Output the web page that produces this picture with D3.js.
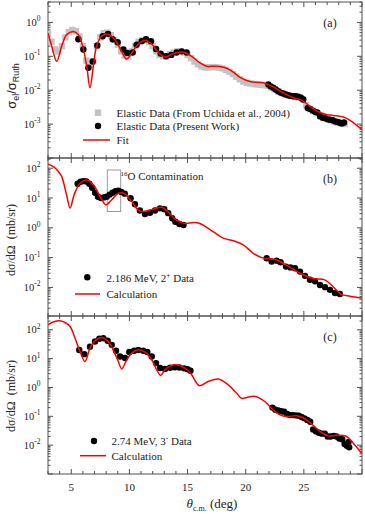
<!DOCTYPE html>
<html><head><meta charset="utf-8">
<script src="https://cdn.jsdelivr.net/npm/d3@7"></script>
<style>body{margin:0;background:#fff} svg{display:block}</style>
</head><body>
<script>
// ---------------- DATA ----------------
const xTickValues = [5, 10, 15, 20, 25];
const expsA = [0, -1, -2, -3];
const expsBC = [2, 1, 0, -1, -2];

// Panel (a) fit curve [deg, sigma/sigmaRuth]
const fitA = [[3,0.49],[3.32,0.2],[3.75,0.071],[4.18,0.2],[4.6,0.43],[5.18,0.54],[5.61,0.43],[5.98,0.2],[6.33,0.051],[6.61,0.0118],[6.9,0.051],[7.18,0.2],[7.61,0.39],[8.19,0.45],[8.76,0.31],[9.33,0.14],[9.76,0.083],[10.2,0.126],[10.77,0.23],[11.34,0.3],[11.92,0.23],[12.49,0.13],[13.06,0.096],[13.78,0.12],[14.6,0.134],[15.35,0.1],[16.07,0.064],[16.65,0.051],[17.2,0.051],[17.79,0.05],[18.65,0.04],[19.51,0.024],[20.37,0.018],[21.5,0.0165],[22.37,0.0125],[23.23,0.0083],[24.09,0.006],[24.8,0.0051],[25.5,0.0034],[26.39,0.0022],[27.0,0.0019],[27.53,0.0018],[28.54,0.00155],[29.25,0.0011],[29.97,0.0007]];

// Panel (a) Uchida et al. data (grey squares)
const uchidaA = [[3.0,0.45],[3.3,0.27],[3.6,0.16],[3.9,0.14],[4.2,0.2],[4.5,0.36],[4.8,0.52],[5.1,0.6],[5.4,0.55],[5.7,0.38],[6.0,0.2],[6.3,0.075],[6.6,0.05],[6.9,0.07],[7.2,0.2],[7.5,0.36],[7.8,0.48],[8.1,0.5],[8.4,0.42],[8.7,0.3],[9.0,0.22],[9.3,0.14],[9.6,0.105],[9.9,0.1],[10.2,0.14],[10.5,0.2],[10.8,0.27],[11.1,0.3],[11.4,0.3],[11.7,0.26],[12.0,0.2],[12.3,0.14],[12.6,0.11],[12.9,0.1],[13.2,0.1],[13.5,0.115],[13.8,0.13],[14.1,0.14],[14.4,0.14],[14.7,0.13],[15.0,0.11],[15.3,0.088],[15.6,0.07],[15.9,0.058],[16.2,0.05],[16.5,0.047],[16.8,0.047],[17.1,0.048],[17.4,0.048],[17.7,0.046],[18.0,0.044],[18.3,0.04],[18.6,0.035],[18.9,0.03],[19.2,0.025],[19.5,0.021],[19.8,0.018],[20.1,0.0165],[20.4,0.0158],[20.7,0.0152],[21.0,0.0148],[21.3,0.0144],[21.6,0.014],[21.9,0.0135],[22.2,0.012],[22.5,0.0105],[22.8,0.0092],[23.1,0.0082],[23.4,0.0075],[23.7,0.007],[24.0,0.0066],[24.3,0.0063],[24.6,0.006],[24.9,0.0054],[25.2,0.0036],[25.5,0.0028],[25.8,0.0025],[26.1,0.0021],[26.4,0.0017],[26.7,0.0015],[27.0,0.0014],[27.3,0.0013],[27.6,0.0012],[27.9,0.0011],[28.2,0.00105],[28.5,0.001]];

// Panel (a) present work (black dots)
const presentA = [[5.61,0.32],[6.04,0.158],[6.47,0.046],[6.84,0.07],[7.24,0.21],[7.7,0.39],[8.16,0.46],[8.56,0.32],[8.99,0.26],[9.48,0.158],[9.82,0.126],[10.28,0.13],[10.62,0.22],[11.06,0.28],[11.43,0.32],[11.86,0.28],[12.29,0.165],[12.69,0.12],[13.15,0.1],[13.6,0.11],[14.06,0.13],[14.49,0.14],[14.92,0.13],[21.95,0.0147],[22.15,0.013],[22.37,0.0118],[22.58,0.0105],[22.8,0.0093],[23.0,0.0085],[23.23,0.008],[23.45,0.0075],[23.66,0.0071],[23.88,0.0068],[24.09,0.0066],[24.3,0.0066],[24.52,0.0064],[24.75,0.006],[24.95,0.0053],[25.33,0.003],[25.55,0.0028],[25.76,0.0025],[25.96,0.0023],[26.16,0.0022],[26.4,0.0017],[26.62,0.00155],[26.84,0.0015],[27.05,0.00138],[27.27,0.00135],[27.48,0.0013],[27.7,0.0012],[27.91,0.00115],[28.1,0.0011],[28.25,0.00105],[28.45,0.00112]];

// Panel (b) calculation [deg, mb/sr]
const calcB = [[3,139],[3.5,110],[3.89,77],[4.18,52],[4.6,12.6],[4.9,4.6],[5.24,12.6],[5.75,31.4],[6.33,40.5],[6.9,27.6],[7.47,11.2],[7.99,5.9],[8.48,8.7],[9.05,14.5],[9.62,13.7],[10.2,7.6],[10.74,4.0],[11.17,3.5],[12.03,4.2],[12.78,4.9],[13.3,3.5],[14.06,1.8],[14.78,1.4],[15.5,1.5],[16.06,1.4],[17.2,0.74],[18.07,0.45],[18.93,0.37],[19.79,0.27],[20.65,0.14],[21.5,0.096],[22.66,0.083],[23.5,0.056],[24.67,0.03],[25.8,0.02],[26.8,0.018],[27.5,0.0107],[28.2,0.006],[28.97,0.0051],[29.97,0.0044]];

// Panel (b) 2.186 MeV 2+ data
const dataB = [[5.55,30],[5.8,35],[6.05,37],[6.3,36],[6.55,30],[6.8,22],[7.05,15],[7.3,11],[7.55,10],[7.8,10.5],[8.05,11],[8.3,13],[8.55,15],[8.8,17],[9.05,17.5],[9.3,16],[9.6,14],[10.1,9.8],[10.48,6.2],[10.9,3.8],[11.34,2.9],[11.77,3.2],[12.2,3.8],[12.63,4.5],[13.0,4.2],[13.34,3.1],[13.68,2.1],[13.95,1.6],[14.3,1.35],[14.65,1.25],[21.8,0.095],[22.23,0.074],[22.66,0.079],[23.0,0.07],[23.46,0.05],[23.85,0.047],[24.24,0.044],[24.67,0.034],[25.1,0.0245],[25.53,0.018],[25.96,0.016],[26.39,0.012],[26.82,0.0102],[27.25,0.0083],[27.68,0.0065],[28.1,0.006]];

// Panel (c) calculation
const calcC = [[3,149],[3.5,190],[4.03,205],[4.5,175],[4.9,130],[5.32,52],[5.75,17.7],[6.18,7.9],[6.61,23],[7.04,41.5],[7.61,54],[8.18,39],[8.67,17.7],[9.05,7.9],[9.34,4.4],[9.77,9.1],[10.2,15.5],[10.77,20.3],[11.34,16.9],[11.92,9.1],[12.35,4.1],[12.69,2.6],[13.06,4.1],[13.5,5.5],[14.06,6.1],[14.78,4.7],[15.35,2.75],[16.0,1.16],[16.77,1.6],[17.64,1.95],[18.5,1.23],[19.22,0.63],[19.65,0.42],[20.37,0.48],[20.94,0.48],[21.66,0.32],[22.37,0.166],[22.95,0.112],[23.52,0.098],[24.38,0.105],[24.95,0.089],[25.67,0.054],[26.39,0.03],[27.1,0.021],[27.82,0.022],[28.68,0.02],[29.25,0.0117],[29.97,0.0052]];

// Panel (c) 2.74 MeV 3- data
const dataC = [[5.69,20],[6.12,14.3],[6.61,26],[7.04,39],[7.41,49],[7.76,51],[8.13,41.5],[8.48,30],[8.85,18.7],[9.19,11.8],[9.62,10.5],[9.99,17],[10.4,18.7],[10.76,20],[11.19,18.7],[11.54,17],[11.92,11.8],[12.29,7],[12.63,4.7],[13.06,4.4],[13.5,4.8],[13.9,5.0],[14.3,4.9],[14.7,4.6],[15.0,4.3],[15.25,3.8],[22.3,0.2],[22.55,0.17],[22.8,0.16],[23.05,0.15],[23.3,0.145],[23.55,0.12],[23.8,0.11],[24.05,0.11],[24.3,0.108],[24.55,0.105],[24.8,0.095],[25.05,0.085],[25.3,0.075],[25.55,0.065],[25.8,0.035],[26.05,0.03],[26.3,0.027],[26.55,0.025],[26.8,0.025],[27.05,0.02],[27.3,0.02],[27.55,0.021],[27.8,0.02],[28.05,0.017],[28.3,0.016],[28.5,0.011],[28.7,0.0095],[28.85,0.013],[28.9,0.0085]];

// ---------------- DRAWING ----------------
const W = 365, H = 514, L = 48, R = 362;
const SERIF = "'Liberation Serif','Times New Roman',serif";
const SANS = "'Liberation Sans',Arial,sans-serif";
const AX = "#505050";
const svg = d3.select("body").append("svg").attr("width", W).attr("height", H);
const x = d3.scaleLinear().domain([3, 30]).range([L, R]);

const panels = [
  {top: 2, bottom: 158, domain: [1e-4, 4], exps: expsA, label: "(a)"},
  {top: 158, bottom: 316, domain: [1.1e-3, 220], exps: expsBC, label: "(b)"},
  {top: 316, bottom: 474, domain: [1e-3, 300], exps: expsBC, label: "(c)"}
];

panels.forEach((p, i) => {
  p.y = d3.scaleLog().domain(p.domain).range([p.bottom, p.top]);
  const g = svg.append("g");
  const clipId = "clip" + i;
  svg.append("clipPath").attr("id", clipId).append("rect")
    .attr("x", L).attr("y", p.top).attr("width", R - L).attr("height", p.bottom - p.top);
  p.g = g;
  p.clip = "url(#" + clipId + ")";

  // x ticks (inward top and bottom)
  const xt = d3.range(3, 31, 1);
  xt.forEach(v => {
    const len = v % 5 === 0 ? 5 : 3;
    g.append("line").attr("x1", x(v)).attr("x2", x(v)).attr("y1", p.bottom).attr("y2", p.bottom - len)
      .attr("stroke", AX).attr("stroke-width", 1);
    g.append("line").attr("x1", x(v)).attr("x2", x(v)).attr("y1", p.top).attr("y2", p.top + len)
      .attr("stroke", AX).attr("stroke-width", 1);
  });
  // y ticks (log, inward left and right)
  const [d0, d1] = p.domain;
  for (let e = Math.floor(Math.log10(d0)); e <= Math.ceil(Math.log10(d1)); e++) {
    for (let m = 1; m <= 9; m++) {
      const v = m * Math.pow(10, e);
      if (v < d0 || v > d1) continue;
      const len = m === 1 ? 5 : 2.5;
      const yy = p.y(v);
      g.append("line").attr("x1", L).attr("x2", L + len).attr("y1", yy).attr("y2", yy).attr("stroke", AX);
      g.append("line").attr("x1", R).attr("x2", R - len).attr("y1", yy).attr("y2", yy).attr("stroke", AX);
    }
  }
  // tick labels
  p.exps.forEach(e => {
    const t = g.append("text").attr("x", 40.5).attr("y", p.y(Math.pow(10, e)) + 3.5)
      .attr("text-anchor", "end").attr("font-family", SERIF).attr("font-size", 10.5).attr("fill", "#222");
    t.append("tspan").text("10");
    t.append("tspan").attr("dy", -4.5).attr("font-size", 7.5).text(e < 0 ? "-" + (-e) : String(e));
  });
  // frame
  g.append("rect").attr("x", L).attr("y", p.top).attr("width", R - L).attr("height", p.bottom - p.top)
    .attr("fill", "none").attr("stroke", AX).attr("stroke-width", 1);
  // panel label
  g.append("text").attr("x", 330).attr("y", p.top + 25).attr("text-anchor", "middle")
    .attr("font-family", SERIF).attr("font-size", 12).attr("fill", "#222").text(p.label);
});

function line(p) {
  return d3.line().x(d => x(d[0])).y(d => p.y(d[1])).curve(d3.curveCatmullRom.alpha(0.5));
}
function dots(p, data) {
  p.g.append("g").attr("clip-path", p.clip).selectAll("circle").data(data).join("circle")
    .attr("cx", d => x(d[0])).attr("cy", d => p.y(d[1])).attr("r", 3.2).attr("fill", "#000");
}
function curve(p, data) {
  p.g.append("path").attr("clip-path", p.clip).datum(data).attr("d", line(p))
    .attr("fill", "none").attr("stroke", "#ff0000").attr("stroke-width", 1.5);
}

// Panel (a)
const pa = panels[0];
pa.g.append("g").attr("clip-path", pa.clip).selectAll("rect").data(uchidaA).join("rect")
  .attr("x", d => x(d[0]) - 3.2).attr("y", d => pa.y(d[1]) - 3.2).attr("width", 6.4).attr("height", 6.4)
  .attr("fill", "#c3c3c3");
dots(pa, presentA);
curve(pa, fitA);

// Panel (b)
const pb = panels[1];
pb.g.append("rect").attr("x", x(8.1)).attr("y", 170).attr("width", x(9.25) - x(8.1)).attr("height", 41.5)
  .attr("fill", "none").attr("stroke", "#999").attr("stroke-width", 1);
dots(pb, dataB);
curve(pb, calcB);

// Panel (c)
const pc = panels[2];
dots(pc, dataC);
curve(pc, calcC);

// x tick labels (bottom panel)
xTickValues.forEach(v => {
  svg.append("text").attr("x", x(v)).attr("y", 491).attr("text-anchor", "middle")
    .attr("font-family", SERIF).attr("font-size", 11).attr("fill", "#222").text(v);
});

// Axis titles
const xt = svg.append("text").attr("x", 212).attr("y", 508).attr("text-anchor", "middle")
  .attr("font-family", SERIF).attr("font-size", 13).attr("fill", "#222");
xt.append("tspan").attr("font-style", "italic").text("θ");
xt.append("tspan").attr("dy", 3).attr("font-size", 8).text("c.m.");
xt.append("tspan").attr("dy", -3).text(" (deg)");

const ya = svg.append("text").attr("transform", "translate(16,86) rotate(-90)").attr("text-anchor", "middle")
  .attr("font-family", SANS).attr("font-size", 13).attr("fill", "#222");
ya.append("tspan").text("σ");
ya.append("tspan").attr("dy", 3).attr("font-size", 9).text("el");
ya.append("tspan").attr("dy", -3).text("/σ");
ya.append("tspan").attr("dy", 3).attr("font-size", 9).text("Ruth");

[[240], [396]].forEach(([cy]) => {
  svg.append("text").attr("transform", `translate(15,${cy}) rotate(-90)`).attr("text-anchor", "middle")
    .attr("font-family", SERIF).attr("font-size", 12).attr("fill", "#222")
    .attr("xml:space", "preserve").style("white-space", "pre").text("dσ/dΩ  (mb/sr)");
});

// Legends
function legText(xx, yy, parts) {
  const t = svg.append("text").attr("x", xx).attr("y", yy).attr("font-family", SERIF)
    .attr("font-size", 11).attr("fill", "#222");
  parts.forEach(pt => {
    const s = t.append("tspan").text(pt.t);
    if (pt.dy) s.attr("dy", pt.dy);
    if (pt.fs) s.attr("font-size", pt.fs);
  });
}
// (a)
svg.append("rect").attr("x", 98 - 3.2).attr("y", 112.7 - 3.2).attr("width", 6.4).attr("height", 6.4).attr("fill", "#c3c3c3");
legText(116.5, 116.5, [{t: "Elastic Data (From Uchida et al., 2004)"}]);
svg.append("circle").attr("cx", 98).attr("cy", 126).attr("r", 3.2).attr("fill", "#000");
legText(116.5, 130, [{t: "Elastic Data (Present Work)"}]);
svg.append("line").attr("x1", 83).attr("x2", 110).attr("y1", 140).attr("y2", 140).attr("stroke", "#ff0000").attr("stroke-width", 1.5);
legText(116.5, 144, [{t: "Fit"}]);
// (b)
legText(120.5, 179.5, [{t: "16", fs: 7, dy: -4}, {t: "O Contamination", dy: 4}]);
svg.append("circle").attr("cx", 87.3).attr("cy", 277.3).attr("r", 3.2).attr("fill", "#000");
legText(106.5, 281.5, [{t: "2.186 MeV, 2"}, {t: "+", fs: 7.5, dy: -4}, {t: " Data", dy: 4}]);
svg.append("line").attr("x1", 75).attr("x2", 100).attr("y1", 294).attr("y2", 294).attr("stroke", "#ff0000").attr("stroke-width", 1.5);
legText(106.5, 297.5, [{t: "Calculation"}]);
// (c)
svg.append("circle").attr("cx", 94).attr("cy", 441).attr("r", 3.2).attr("fill", "#000");
legText(111.5, 445, [{t: "2.74 MeV, 3"}, {t: "-", fs: 7.5, dy: -4}, {t: " Data", dy: 4}]);
svg.append("line").attr("x1", 80).attr("x2", 106).attr("y1", 455.7).attr("y2", 455.7).attr("stroke", "#ff0000").attr("stroke-width", 1.5);
legText(111.5, 459.5, [{t: "Calculation"}]);
</script>
</body></html>
